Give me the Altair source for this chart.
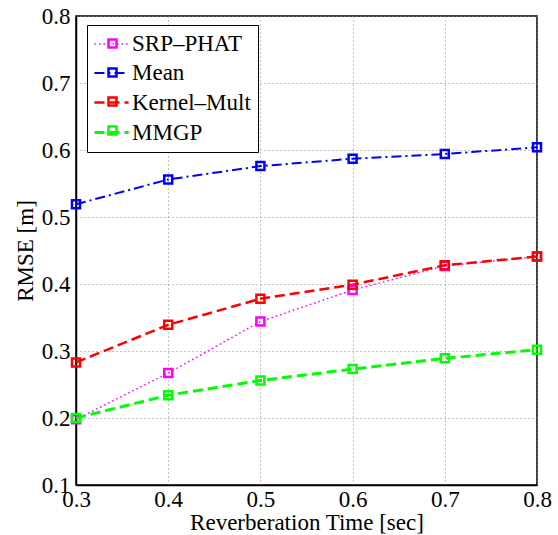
import altair as alt
import pandas as pd

x_vals = [0.3, 0.4, 0.5, 0.6, 0.7, 0.8]
y_ticks = [0.1, 0.2, 0.3, 0.4, 0.5, 0.6, 0.7, 0.8]
series_names = ["SRP–PHAT", "Mean", "Kernel–Mult", "MMGP"]
srp = [0.198, 0.267, 0.344, 0.391, 0.427, 0.441]
mean = [0.519, 0.556, 0.576, 0.587, 0.594, 0.604]
kernel = [0.283, 0.339, 0.378, 0.399, 0.428, 0.441]
mmgp = [0.200, 0.234, 0.256, 0.273, 0.289, 0.302]

marker_names = [n + " marker" for n in series_names]

rows = []
for name, mk, vals in zip(series_names, marker_names, [srp, mean, kernel, mmgp]):
    for t, v in zip(x_vals, vals):
        rows.append({"t": t, "rmse": v, "series": name, "marker": mk})
df = pd.DataFrame(rows)

colors = ["#ff00ff", "#0000ff", "#ff0000", "#00ff00"]
dashes = [[1.5, 3], [10, 4, 2, 4], [10, 5], [10, 5]]
widths = [1.5, 3, 3, 3]
font = "Times New Roman"

x = alt.X("t:Q", scale=alt.Scale(domain=[0.3, 0.8], nice=False),
          axis=alt.Axis(values=x_vals, format=".1f", title="Reverberation Time [sec]",
                        labelPadding=3, titlePadding=0, labelFlush=False))
y = alt.Y("rmse:Q", scale=alt.Scale(domain=[0.1, 0.8], nice=False),
          axis=alt.Axis(values=y_ticks, format=".1f", title="RMSE [m]",
                        labelPadding=6, titlePadding=4, labelFlush=False))

line_legend = alt.Legend(title=None, orient="none", legendX=11, legendY=9,
                         padding=7, rowPadding=5, labelFont=font, labelFontSize=23,
                         labelColor="black", labelOffset=8, symbolOffset=5,
                         symbolType="M-1.55,0H1.55",
                         symbolSize=484, symbolStrokeWidth=3,
                         fillColor="white", strokeColor="black", zindex=0)

lines = alt.Chart(df).mark_line().encode(
    x=x, y=y,
    color=alt.Color("series:N", scale=alt.Scale(domain=series_names, range=colors),
                    legend=line_legend),
    strokeDash=alt.StrokeDash("series:N", scale=alt.Scale(domain=series_names, range=dashes),
                              legend=line_legend),
    strokeWidth=alt.StrokeWidth("series:N", scale=alt.Scale(domain=series_names, range=widths),
                                legend=line_legend),
)

square_legend = alt.Legend(title=None, orient="none", legendX=18, legendY=9,
                           padding=7, rowPadding=5, labelFont=font, labelFontSize=23,
                           labelExpr="''", labelOffset=5, symbolType="square",
                           symbolSize=64, symbolStrokeWidth=2.5, zindex=1)

points = alt.Chart(df).mark_point(shape="square", filled=False, size=64,
                                  strokeWidth=2.5, opacity=1, clip=False).encode(
    x=x, y=y,
    stroke=alt.Stroke("marker:N", scale=alt.Scale(domain=marker_names, range=colors),
                      legend=square_legend),
)

chart = alt.layer(lines, points).properties(
    width=461, height=469,
    autosize=alt.AutoSizeParams(type="none"),
    padding={"left": 76, "top": 16, "right": 21, "bottom": 50},
    background="white",
).configure_view(stroke="black", strokeWidth=1.5).configure_axis(
    labelFont=font, titleFont=font, labelFontSize=23, titleFontSize=23,
    titleFontWeight="normal", labelColor="black", titleColor="black",
    domainColor="black", domainWidth=1.5, ticks=False,
    grid=True, gridColor="#888888", gridDash=[1, 3], gridWidth=1,
)

chart.save("out.html", embed_options={"renderer": "svg", "actions": False})
